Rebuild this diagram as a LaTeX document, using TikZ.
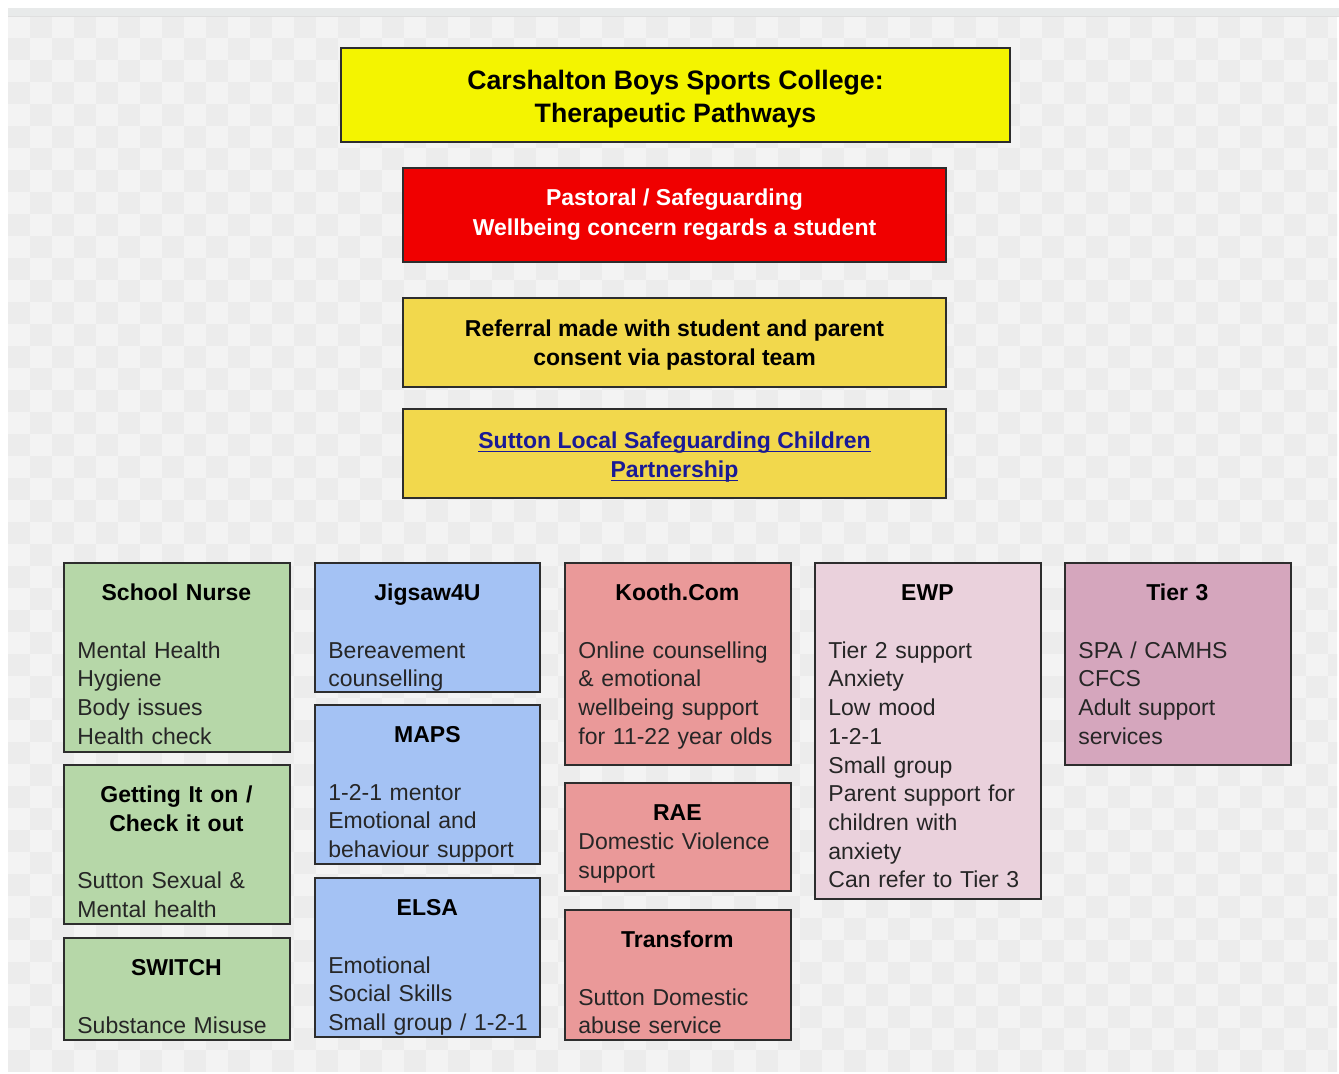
\documentclass[tikz,border=0pt]{standalone}
\usepackage{fontspec}
\setmainfont{Liberation Sans}
\usetikzlibrary{fit,calc}
\definecolor{bgA}{RGB}{243,243,243}
\definecolor{bgB}{RGB}{236,236,236}
\definecolor{stripe}{RGB}{232,234,234}
\definecolor{boxline}{RGB}{45,45,45}
\definecolor{ttlyellow}{RGB}{244,244,0}
\definecolor{alertred}{RGB}{240,0,0}
\definecolor{refyellow}{RGB}{242,216,76}
\definecolor{linkblue}{RGB}{26,26,150}
\definecolor{cgreen}{HTML}{B6D7A8}
\definecolor{cblue}{HTML}{A4C2F4}
\definecolor{cred}{HTML}{EA9999}
\definecolor{cpink}{HTML}{EAD1DC}
\definecolor{cmauve}{HTML}{D5A6BD}
\definecolor{bodytext}{RGB}{38,38,38}
\newcommand\bodyfont{\fontsize{17.25pt}{21.56pt}\selectfont}
\newcommand\hd[1]{\makebox[148.5pt]{\strut\bfseries\color{black}#1}}
\newlength\lnkw
\newcommand\lnk[1]{\settowidth\lnkw{#1}\rlap{\rule[-2.4pt]{\lnkw}{1.1pt}}#1}
\begin{document}
\begin{tikzpicture}[x=0.75pt,y=-0.75pt,
  box/.style={draw=boxline, line width=1.3pt, inner sep=0pt},
  body/.style={anchor=north west, inner sep=0pt, text width=180pt, align=left, text=bodytext, font=\bodyfont},
  toptext/.style={inner sep=0pt, align=center, font={\fontsize{17.25pt}{21.75pt}\selectfont\bfseries}}
]
\useasboundingbox (0,0) rectangle (1339,1074);
\fill[white] (0,0) rectangle (1339,1074);
\fill[bgA] (8,16) rectangle (1337,1072);
\begin{scope}
\clip (8,16) rectangle (1337,1072);
\foreach \i in {0,...,60}{\foreach \j in {0,...,47}{%
  \pgfmathtruncatemacro\chk{mod(\i+\j,2)}%
  \ifnum\chk=1 \fill[bgB] ({8+\i*22},{16+\j*22}) rectangle +(22,22);\fi}}
\end{scope}
\fill[stripe] (8,8) rectangle (1339,16);
\draw[gray!25, line width=0.6pt] (8,16) -- (1339,16);

% top column of boxes
\node[box, fill=ttlyellow, fit={(341,48) (1010,142)}] (title) {};
\node[toptext, font={\fontsize{20pt}{24.75pt}\selectfont\bfseries}] (title-t)
  at ($(title.center)+(0,4)$) {Carshalton Boys Sports College:\\ Therapeutic Pathways};
\node[box, fill=alertred, fit={(403,168) (946,262)}] (concern) {};
\node[toptext, text=white, font={\fontsize{17.25pt}{22.5pt}\selectfont\bfseries}] (concern-t)
  at (concern.center) {Pastoral / Safeguarding\\ Wellbeing concern regards a student};
\node[box, fill=refyellow, fit={(403,298) (946,387)}] (referral) {};
\node[toptext] (referral-t) at ($(referral.center)+(0,3)$)
  {Referral made with student and parent\\ consent via pastoral team};
\node[box, fill=refyellow, fit={(403,409) (946,498)}] (slscp) {};
\node[toptext, text=linkblue] (slscp-t) at ($(slscp.center)+(0,4)$)
  {\lnk{Sutton Local Safeguarding Children}\\ \lnk{Partnership}};

% column 1
\node[box, fill=cgreen, fit={(64,563) (290,752)}] (sn) {};
\node[body] (sn-t) at ($(sn.north west)+(14,18)$)
  {\hd{School Nurse}\\[\baselineskip]Mental Health\\Hygiene\\Body issues\\Health check};
\node[box, fill=cgreen, fit={(64,765) (290,924)}] (gio) {};
\node[body] (gio-t) at ($(gio.north west)+(14,18)$)
  {\hd{Getting It on /}\\\hd{Check it out}\\[\baselineskip]Sutton Sexual \&\\Mental health};
\node[box, fill=cgreen, fit={(64,938) (290,1040)}] (sw) {};
\node[body] (sw-t) at ($(sw.north west)+(14,18)$)
  {\hd{SWITCH}\\[\baselineskip]Substance Misuse};

% column 2
\node[box, fill=cblue, fit={(315,563) (540,692)}] (jig) {};
\node[body] (jig-t) at ($(jig.north west)+(14,18)$)
  {\hd{Jigsaw4U}\\[\baselineskip]Bereavement\\counselling};
\node[box, fill=cblue, fit={(315,705) (540,864)}] (maps) {};
\node[body] (maps-t) at ($(maps.north west)+(14,18)$)
  {\hd{MAPS}\\[\baselineskip]1-2-1 mentor\\Emotional and\\behaviour support};
\node[box, fill=cblue, fit={(315,878) (540,1037)}] (elsa) {};
\node[body] (elsa-t) at ($(elsa.north west)+(14,18)$)
  {\hd{ELSA}\\[\baselineskip]Emotional\\Social Skills\\Small group / 1-2-1};

% column 3
\node[box, fill=cred, fit={(565,563) (791,765)}] (kooth) {};
\node[body] (kooth-t) at ($(kooth.north west)+(14,18)$)
  {\hd{Kooth.Com}\\[\baselineskip]Online counselling\\\& emotional\\wellbeing support\\for 11-22 year olds};
\node[box, fill=cred, fit={(565,783) (791,891)}] (rae) {};
\node[body] (rae-t) at ($(rae.north west)+(14,18)$)
  {\hd{RAE}\\Domestic Violence\\support};
\node[box, fill=cred, fit={(565,910) (791,1040)}] (tr) {};
\node[body] (tr-t) at ($(tr.north west)+(14,18)$)
  {\hd{Transform}\\[\baselineskip]Sutton Domestic\\abuse service};

% column 4
\node[box, fill=cpink, fit={(815,563) (1041,899)}] (ewp) {};
\node[body] (ewp-t) at ($(ewp.north west)+(14,18)$)
  {\hd{EWP}\\[\baselineskip]Tier 2 support\\Anxiety\\Low mood\\1-2-1\\Small group\\Parent support for\\children with\\anxiety\\Can refer to Tier 3};

% column 5
\node[box, fill=cmauve, fit={(1065,563) (1291,765)}] (t3) {};
\node[body] (t3-t) at ($(t3.north west)+(14,18)$)
  {\hd{Tier 3}\\[\baselineskip]SPA / CAMHS\\CFCS\\Adult support\\services};
\end{tikzpicture}
\end{document}
